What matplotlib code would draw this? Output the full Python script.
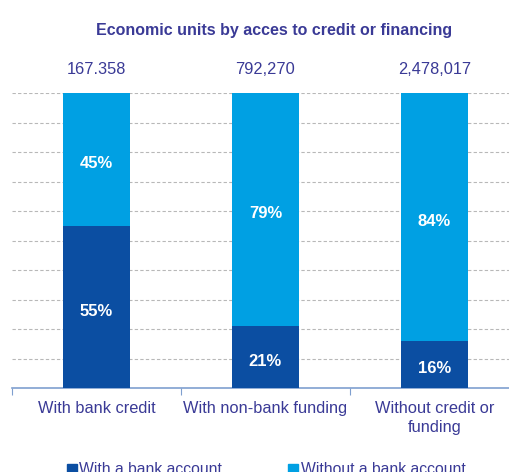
import matplotlib.pyplot as plt
import numpy as np

plt.rcParams['font.family'] = ['Liberation Sans', 'DejaVu Sans']

categories = ['With bank credit', 'With non-bank funding', 'Without credit or\nfunding']
totals = ['167.358', '792,270', '2,478,017']
with_account = [55, 21, 16]
without_account = [45, 79, 84]

dark = '#0b4ea2'
light = '#00a0e3'
text_col = '#3a3a96'

fig = plt.figure(figsize=(5.10, 4.72), dpi=100)
ax = fig.add_axes([12 / 510, 84 / 472, 507 / 510, 295 / 472])

x = np.arange(len(categories))
ax.bar(x, with_account, width=0.4, color=dark, zorder=3)
ax.bar(x, without_account, width=0.4, bottom=with_account, color=light, zorder=3)

for i in x:
    ax.text(i, with_account[i] / 2 - 1, f'{with_account[i]}%', ha='center',
            va='center_baseline', color='white', fontsize=12, fontweight='bold', zorder=4)
    ax.text(i, with_account[i] + without_account[i] / 2 - 1, f'{without_account[i]}%',
            ha='center', va='center_baseline', color='white', fontsize=12,
            fontweight='bold', zorder=4)
    ax.text(i, 105.5, totals[i], ha='center', va='bottom', color=text_col, fontsize=11.8)

ax.set_xlim(-0.5, 2.5)
ax.set_ylim(0, 100)
ax.set_yticks(np.arange(10, 101, 10))
ax.yaxis.grid(True, color='#b8b8b8', linestyle=(0, (3, 2)), linewidth=0.8, zorder=0)
ax.tick_params(axis='y', left=False, labelleft=False)

ax.set_xticks([0.5, 1.5, -0.5])
ax.tick_params(axis='x', direction='out', length=5, color='#7f9fcf', labelbottom=False)
for i, c in enumerate(categories):
    ax.text(i, -4.5, c, ha='center', va='top', color=text_col, fontsize=11.8,
            linespacing=1.35)

for s in ['top', 'right', 'left']:
    ax.spines[s].set_visible(False)
ax.spines['bottom'].set_color('#7f9fcf')
ax.spines['bottom'].set_linewidth(1.2)

fig.text(274 / 510, 1 - 31 / 472, 'Economic units by acces to credit or financing',
         ha='center', va='center', color=text_col, fontsize=11.5, fontweight='bold')

handles = [plt.Rectangle((0, 0), 1, 1, color=dark), plt.Rectangle((0, 0), 1, 1, color=light)]
fig.legend(handles, ['With a bank account', 'Without a bank account'], ncol=2,
           loc='center', bbox_to_anchor=(266 / 510, 1 - 470 / 472), frameon=False,
           fontsize=11.3, labelcolor=text_col, handlelength=0.65, handleheight=0.65,
           handletextpad=0.15, columnspacing=4.2)

fig.savefig('out.png', dpi=100)
